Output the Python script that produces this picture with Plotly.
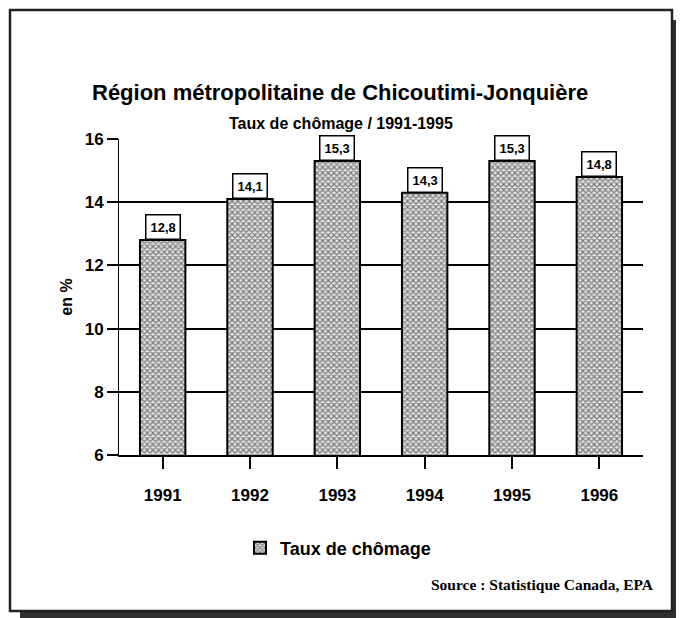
import plotly.graph_objects as go

# data
years = ["1991", "1992", "1993", "1994", "1995", "1996"]
taux = [12.8, 14.1, 15.3, 14.3, 15.3, 14.8]

# the page body has an 8px margin, so the figure sits at (8, 8)
OFF = 8
W, H = 684 - OFF, 618 - OFF
X0, X1, Y0, Y1 = 119, 643, 139, 455   # plot area in page pixels


def px(x):
    return (x - X0) / (X1 - X0)


def py(y):
    return (Y1 - y) / (Y1 - Y0)


font = "Liberation Sans, Arial, sans-serif"

trace = go.Bar(
    x=years, y=taux, name="<b>Taux de chômage</b>", width=0.52,
    marker=dict(color="white", line=dict(color="black", width=2),
                pattern=dict(shape="x", size=4, solidity=0.5,
                             fgcolor="#111111", bgcolor="#e2e2e2")),
)

fig = go.Figure(data=[trace])

# value boxes above the bars (category index as x)
for i, v in enumerate(taux):
    fig.add_annotation(x=i, y=v, xref="x", yref="y", showarrow=False,
                       yanchor="bottom", text="<b>%s</b>" % f"{v:.1f}".replace(".", ","),
                       font=dict(family=font, size=13, color="black"),
                       bgcolor="white", bordercolor="black", borderwidth=1.5, borderpad=4)

# title, subtitle, source
fig.add_annotation(x=px(340), y=py(78), xref="paper", yref="paper", showarrow=False,
                   text="<b>Région métropolitaine de Chicoutimi-Jonquière</b>",
                   font=dict(family=font, size=22, color="black"))
fig.add_annotation(x=px(341), y=py(113), xref="paper", yref="paper", showarrow=False,
                   text="<b>Taux de chômage / 1991-1995</b>",
                   font=dict(family=font, size=16, color="black"))
fig.add_annotation(x=px(656), y=py(595), xref="paper", yref="paper", showarrow=False,
                   xanchor="right", text="<b>Source : Statistique Canada, EPA</b>",
                   font=dict(family="Liberation Serif, Times New Roman, serif", size=15.5,
                             color="black"))

# frame with drop shadow
fig.add_shape(type="rect", xref="paper", yref="paper", layer="below",
              x0=px(20), x1=px(700), y0=py(20), y1=py(640),
              fillcolor="#303030", line=dict(width=0))
fig.add_shape(type="rect", xref="paper", yref="paper", layer="below",
              x0=px(10), x1=px(672), y0=py(10), y1=py(611),
              fillcolor="white", line=dict(color="#222", width=2.5))

fig.update_layout(
    width=W, height=H,
    margin=dict(l=X0 - OFF, r=OFF + W - X1, t=Y0 - OFF, b=OFF + H - Y1),
    paper_bgcolor="white", plot_bgcolor="rgba(0,0,0,0)",
    font=dict(family=font, color="black"),
    showlegend=True,
    legend=dict(orientation="h", x=px(240), y=py(548), xanchor="left", yanchor="middle",
                font=dict(family=font, size=18, color="black"), bgcolor="rgba(0,0,0,0)"),
    xaxis=dict(type="category", range=[-0.5, 5.5], showline=True, linecolor="black",
               linewidth=2, ticks="outside", ticklen=12, tickwidth=1.5, tickcolor="black",
               tickfont=dict(family=font, size=17, color="black"),
               ticklabelstandoff=12, showgrid=False),
    yaxis=dict(range=[6, 16], dtick=2, showline=True, linecolor="black", linewidth=1,
               ticks="outside", ticklen=11, tickwidth=1.5, tickcolor="black",
               showgrid=True, gridcolor="black", gridwidth=1.5, zeroline=False,
               tickfont=dict(family=font, size=17, color="black"),
               title=dict(text="<b>en %</b>", font=dict(family=font, size=16, color="black"),
                          standoff=8)),
)
fig.update_xaxes(tickprefix="<b>", ticksuffix="</b>")
fig.update_yaxes(tickprefix="<b>", ticksuffix="</b>")

fig.write_html("out.html")
